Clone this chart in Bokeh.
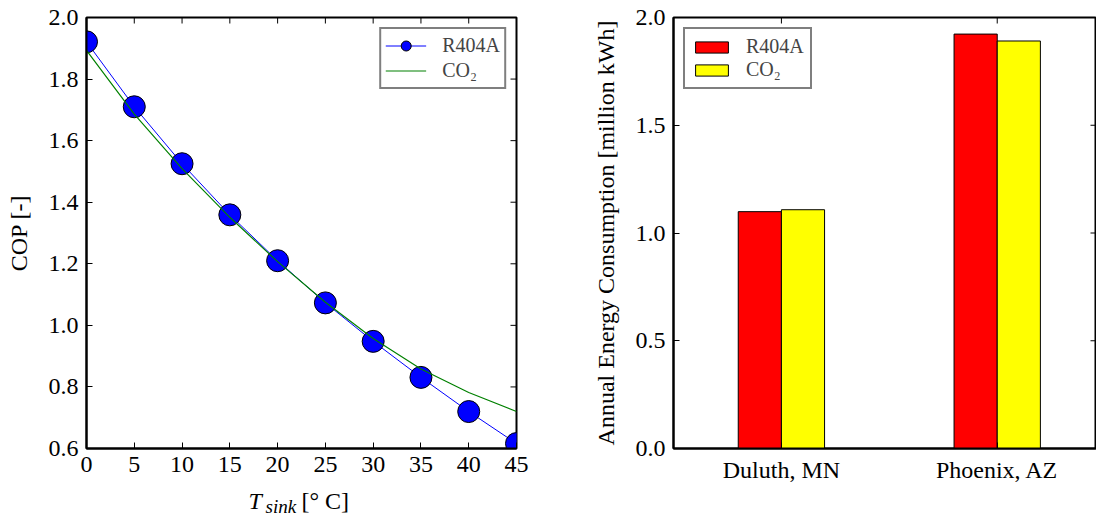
import math
from bokeh.plotting import figure
from bokeh.layouts import row, column
from bokeh.models import (FixedTicker, NumeralTickFormatter, Range1d,
                          ColumnDataSource, Legend, Label)
from bokeh.transform import dodge
from bokeh.embed import file_html
from bokeh.resources import INLINE

# ---------------- data ----------------
t_sink = [0, 5, 10, 15, 20, 25, 30, 35, 40, 45]
cop_r404a = [1.921, 1.710, 1.525, 1.359, 1.210, 1.073, 0.948, 0.831, 0.720, 0.616]
cop_co2 = [1.893, 1.686, 1.509, 1.351, 1.207, 1.075, 0.957, 0.858, 0.782, 0.720]

cities = ["Duluth, MN", "Phoenix, AZ"]
energy_r404a = [1.099, 1.923]
energy_co2 = [1.108, 1.891]

cop_ticks = [0.6, 0.8, 1.0, 1.2, 1.4, 1.6, 1.8, 2.0]
t_ticks = [0, 5, 10, 15, 20, 25, 30, 35, 40, 45]
energy_ticks = [0.0, 0.5, 1.0, 1.5, 2.0]

FONT = "Liberation Serif"
FS = "24px"


def style_axis(ax):
    ax.major_tick_in = 6
    ax.major_tick_out = 0
    ax.minor_tick_in = 0
    ax.minor_tick_out = 0
    ax.axis_line_width = 2
    ax.axis_line_color = "black"
    ax.major_tick_line_color = "black"
    ax.major_tick_line_width = 1
    ax.major_label_text_font = FONT
    ax.major_label_text_font_size = FS
    ax.major_label_text_color = "black"
    ax.major_label_standoff = 8
    ax.axis_label_text_font = FONT
    ax.axis_label_text_font_size = FS
    ax.axis_label_text_font_style = "normal"
    ax.axis_label_text_color = "black"
    ax.axis_label_standoff = 14


def mirror_ticks(p, xticks, yticks):
    # inward tick marks on the top and right spines (clipped to the frame)
    xr, yr = p.x_range, p.y_range
    p.scatter(x=xticks, y=[yr.end] * len(xticks), marker="dash", size=12,
              angle=math.pi / 2, line_color="black", line_width=1)
    p.scatter(x=[xr.end] * len(yticks), y=yticks, marker="dash", size=12,
              line_color="black", line_width=1)


# ---------------- left: COP ----------------
x_rng = Range1d(0, 45)
p1 = figure(frame_width=430, frame_height=431, x_range=x_rng, y_range=Range1d(0.6, 2.0),
            output_backend="svg", toolbar_location=None,
            min_border_left=86, min_border_right=44, min_border_top=17, min_border_bottom=32)
p1.grid.visible = False
p1.outline_line_color = "black"
p1.outline_line_width = 2

src1 = ColumnDataSource(dict(t=t_sink, r=cop_r404a, c=cop_co2))
l_r = p1.line("t", "r", source=src1, line_color="#0000ff", line_width=1)
s_r = p1.scatter("t", "r", source=src1, size=22, fill_color="#0000ff",
                 line_color="black", line_width=1)
l_c = p1.line("t", "c", source=src1, line_color="#008000", line_width=1.2)

p1.xaxis.ticker = FixedTicker(ticks=t_ticks)
p1.yaxis.ticker = FixedTicker(ticks=cop_ticks)
p1.yaxis.formatter = NumeralTickFormatter(format="0.0")
p1.yaxis.axis_label = "COP [-]"
style_axis(p1.xaxis[0])
style_axis(p1.yaxis[0])
mirror_ticks(p1, t_ticks, cop_ticks)

leg1 = Legend(items=[("R404A", [l_r, s_r]), ("CO\u2082", [l_c])], location="top_right")
leg1.border_line_color = "black"
leg1.border_line_width = 2
leg1.label_text_font = FONT
leg1.label_text_font_size = "20px"
leg1.glyph_width = 41
leg1.glyph_height = 25
leg1.spacing = 0
leg1.padding = 4
leg1.label_standoff = 16
leg1.margin = 10
p1.add_layout(leg1, "center")

# strip below the left plot carrying the x-axis title  T_sink [° C]
# (its frame spans the same x extent as the plot above; y range = pixel rows)
plab = figure(frame_width=430, frame_height=34, x_range=x_rng, y_range=Range1d(0, 34),
              output_backend="svg", toolbar_location=None, title=None,
              x_axis_location=None, y_axis_location=None,
              min_border_left=86, min_border_right=44, min_border_top=0, min_border_bottom=0)
plab.grid.visible = False
plab.outline_line_color = None
xc = (t_ticks[0] + t_ticks[-1]) / 2
for txt, dx, y, size, style in [("T", -53, 14, "24px", "italic"),
                                ("sink", -36, 8, "19px", "italic"),
                                ("[\u00b0 C]", 0, 14, "24px", "normal")]:
    plab.add_layout(Label(x=xc, y=y, x_offset=dx, text=txt, text_font=FONT,
                          text_font_size=size, text_font_style=style,
                          text_baseline="alphabetic", text_align="left",
                          text_color="black"))

left = column(p1, plab, spacing=0)

# ---------------- right: energy ----------------
idx = list(range(len(cities)))
src2 = ColumnDataSource(dict(x=idx, r=energy_r404a, c=energy_co2))
p2 = figure(width=536, height=514, x_range=Range1d(-0.5, 1.46), y_range=Range1d(0, 2.0),
            output_backend="svg", toolbar_location=None,
            min_border_left=113, min_border_right=0, min_border_top=17, min_border_bottom=66)
p2.grid.visible = False
p2.outline_line_color = "black"
p2.outline_line_width = 2

b_r = p2.vbar(x=dodge("x", -0.1), top="r", width=0.2, source=src2,
              fill_color="#ff0000", line_color="black", line_width=1)
b_c = p2.vbar(x=dodge("x", 0.1), top="c", width=0.2, source=src2,
              fill_color="#ffff00", line_color="black", line_width=1)

p2.xaxis.ticker = FixedTicker(ticks=idx)
p2.xaxis.major_label_overrides = {i: c for i, c in zip(idx, cities)}
p2.yaxis.ticker = FixedTicker(ticks=energy_ticks)
p2.yaxis.formatter = NumeralTickFormatter(format="0.0")
p2.yaxis.axis_label = "Annual Energy Consumption [million kWh]"
style_axis(p2.xaxis[0])
style_axis(p2.yaxis[0])
mirror_ticks(p2, idx, energy_ticks)

leg2 = Legend(items=[("R404A", [b_r]), ("CO\u2082", [b_c])], location="top_left")
leg2.border_line_color = "black"
leg2.border_line_width = 2
leg2.label_text_font = FONT
leg2.label_text_font_size = "20px"
leg2.glyph_width = 41
leg2.glyph_height = 14
leg2.spacing = 0
leg2.padding = 6
leg2.label_standoff = 14
leg2.margin = 10
p2.add_layout(leg2, "center")

layout = row(left, p2, spacing=0)
open("out.html", "w").write(file_html(layout, INLINE))
